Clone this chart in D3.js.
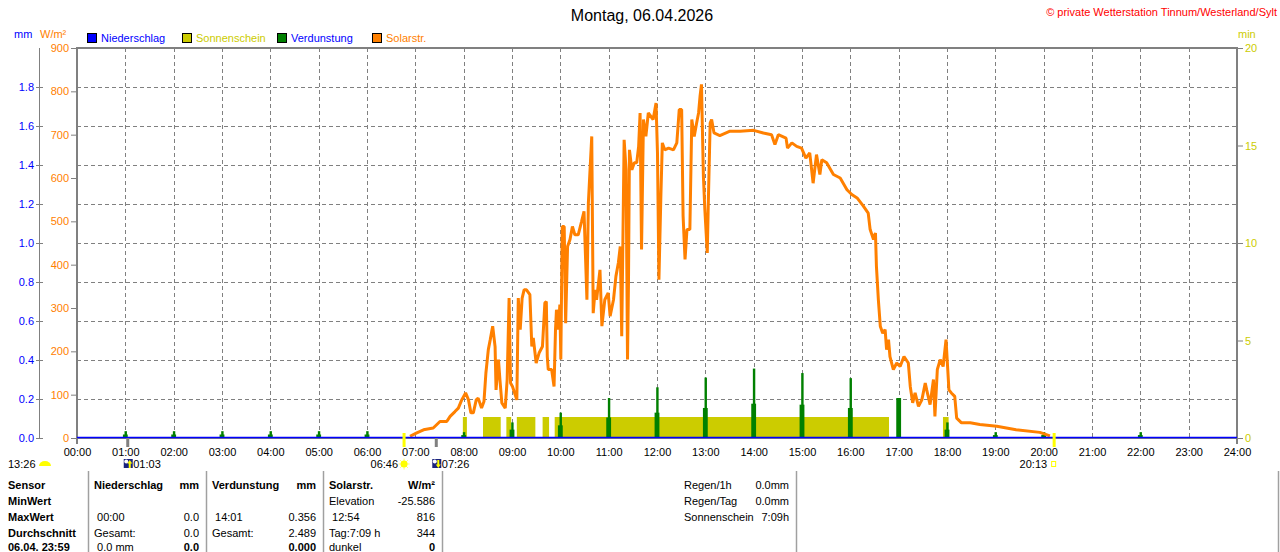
<!DOCTYPE html>
<html>
<head>
<meta charset="utf-8">
<script src="https://cdn.jsdelivr.net/npm/d3@7"></script>
<style>
  body { margin: 0; background: #fff; }
  svg { display: block; font-family: "Liberation Sans", Arial, sans-serif; }
  text { font-size: 11px; }
</style>
</head>
<body>
<div id="chart"></div>
<script>
// ---- data ----
const hourLabels = ['00:00','01:00','02:00','03:00','04:00','05:00','06:00','07:00','08:00','09:00','10:00','11:00',
  '12:00','13:00','14:00','15:00','16:00','17:00','18:00','19:00','20:00','21:00','22:00','23:00','24:00'];
const mmTicks = [0, 0.2, 0.4, 0.6, 0.8, 1.0, 1.2, 1.4, 1.6, 1.8];
const wTicks = [0, 100, 200, 300, 400, 500, 600, 700, 800, 900];
const minTicks = [0, 5, 10, 15, 20];

// Solarstrahlung (W/m²), time in decimal hours
const solarTime = [6.89, 7.03, 7.17, 7.37, 7.51, 7.65, 7.72, 7.82, 7.89, 7.96, 8.04, 8.10, 8.15, 8.20, 8.26, 8.30,
  8.37, 8.42, 8.46, 8.51, 8.55, 8.60, 8.65, 8.67, 8.72, 8.75, 8.79, 8.86, 8.90, 8.94, 8.97, 9.01, 9.10, 9.13, 9.17,
  9.21, 9.25, 9.30, 9.37, 9.41, 9.44, 9.50, 9.56, 9.63, 9.68, 9.71, 9.73, 9.75, 9.82, 9.87, 9.90, 9.92, 9.96, 9.99,
  10.01, 10.04, 10.08, 10.11, 10.15, 10.20, 10.25, 10.30, 10.37, 10.44, 10.49, 10.55, 10.58, 10.65, 10.68, 10.72,
  10.75, 10.82, 10.86, 10.92, 10.99, 11.03, 11.10, 11.15, 11.20, 11.24, 11.27, 11.32, 11.36, 11.39, 11.41, 11.43,
  11.48, 11.53, 11.58, 11.62, 11.65, 11.68, 11.72, 11.77, 11.82, 11.92, 11.98, 12.01, 12.04, 12.08, 12.11, 12.16,
  12.24, 12.34, 12.41, 12.46, 12.51, 12.54, 12.58, 12.62, 12.68, 12.72, 12.77, 12.82, 12.86, 12.89, 12.92, 12.96,
  12.99, 13.04, 13.06, 13.10, 13.13, 13.18, 13.30, 13.51, 13.72, 14.00, 14.20, 14.37, 14.44, 14.51, 14.67, 14.70,
  14.79, 14.89, 14.99, 15.08, 15.16, 15.23, 15.30, 15.37, 15.41, 15.51, 15.65, 15.79, 15.93, 16.03, 16.14, 16.27,
  16.37, 16.41, 16.48, 16.52, 16.54, 16.58, 16.62, 16.67, 16.72, 16.75, 16.79, 16.82, 16.89, 16.96, 17.03, 17.11,
  17.20, 17.24, 17.29, 17.34, 17.41, 17.48, 17.55, 17.58, 17.65, 17.72, 17.75, 17.80, 17.86, 17.92, 17.98, 18.00,
  18.04, 18.09, 18.16, 18.20, 18.30, 18.48, 18.68, 19.03, 19.43, 19.92, 20.13];
const solarValue = [4, 12, 19, 23, 38, 38, 50, 61, 69, 88, 104, 88, 58, 58, 88, 92,
  69, 84, 150, 204, 227, 258, 211, 111, 181, 135, 81, 69, 135, 323, 127, 119, 88, 323, 250,
  323, 342, 342, 331, 211, 231, 173, 196, 211, 312, 315, 188, 158, 158, 119, 250, 296, 250, 308,
  181, 488, 488, 265, 442, 458, 488, 469, 469, 500, 523, 319, 542, 696, 288, 342,
  319, 388, 258, 319, 335, 281, 319, 373, 404, 442, 235, 688, 619, 181, 358, 665,
  619, 635, 635, 673, 750, 435, 735, 696, 750, 735, 773, 658, 365, 558, 681, 665,
  669, 665, 681, 758, 758, 512, 412, 481, 481, 735, 696, 727, 750, 788, 816, 604,
  527, 427, 535, 727, 735, 704, 698, 708, 708, 710, 704, 700, 677, 700, 692, 669,
  681, 673, 669, 646, 658, 588, 654, 608, 642, 635, 608, 600, 573, 562, 554, 535,
  519, 481, 458, 473, 396, 319, 258, 242, 250, 204, 227, 188, 158, 173, 165, 188,
  173, 119, 81, 104, 73, 88, 127, 111, 77, 135, 50, 158, 181, 165, 227, 188,
  111, 104, 96, 46, 35, 35, 31, 27, 19, 13, 5];

// Sonnenschein (min per minute) intervals
const sunStart = ['07:59', '08:24', '08:53', '09:06', '09:38', '09:53', '17:55'];
const sunEnd   = ['08:04', '08:46', '08:59', '09:29', '09:46', '16:48', '18:02'];
const sunValue = 1;

// Verdunstung (mm) spikes around the full hours
const evapHour = [1, 2, 3, 4, 5, 6, 8, 9, 10, 11, 12, 13, 14, 15, 16, 17, 18, 19, 20, 22];
const evapPeak = [0.035, 0.035, 0.035, 0.035, 0.035, 0.035, 0.03, 0.08, 0.13, 0.205, 0.26, 0.31, 0.356, 0.333,
  0.307, 0.205, 0.08, 0.03, 0.03, 0.03];
const evapBase = [0.018, 0.018, 0.018, 0.018, 0.018, 0.018, 0.015, 0.043, 0.065, 0.105, 0.13, 0.154, 0.176, 0.171,
  0.154, 0.205, 0.043, 0.015, 0.015, 0.015];

// Niederschlag (mm)
const rainValue = 0;

// Astro events
const sunrise = '06:46', sunset = '20:13', moonrise = '01:03', moonset = '07:26', sunNoon = '13:26';

// table
const tableRows = ['Sensor', 'MinWert', 'MaxWert', 'Durchschnitt', '06.04. 23:59'];
const tableCols = [
  { head: 'Niederschlag', unit: 'mm', left: ['', '', ' 00:00', 'Gesamt:', ' 0.0 mm'], right: ['', '0.0', '0.0', '0.0'] },
  { head: 'Verdunstung', unit: 'mm', left: ['', '', ' 14:01', 'Gesamt:', ''], right: ['', '0.356', '2.489', '0.000'] },
  { head: 'Solarstr.', unit: 'W/m²', left: ['', 'Elevation', ' 12:54', 'Tag:7:09 h', 'dunkel'], right: ['-25.586', '816', '344', '0'] }
];
const summaryLabels = ['Regen/1h', 'Regen/Tag', 'Sonnenschein'];
const summaryValues = ['0.0mm', '0.0mm', '7:09h'];

// ---- layout ----
const W = 1280, H = 552;
const plot = { left: 77, right: 1237, top: 48, bottom: 438 };
const blue = '#0000ff', orange = '#ff8000', yellow = '#cccc00', green = '#008000', grey = '#808080';

const hm = s => { const p = s.split(':'); return +p[0] + p[1] / 60; };

const x = d3.scaleLinear().domain([0, 24]).range([plot.left, plot.right]);
const yW = d3.scaleLinear().domain([0, 900]).range([plot.bottom, plot.top]);
const yMM = d3.scaleLinear().domain([0, 2]).range([plot.bottom, plot.top]);
const yMin = d3.scaleLinear().domain([0, 20]).range([plot.bottom, plot.top]);

const svg = d3.select('#chart').append('svg').attr('width', W).attr('height', H);

// title + copyright
svg.append('text').text('Montag, 06.04.2026')
  .attr('x', 642).attr('y', 21).attr('text-anchor', 'middle').style('font-size', '16px');
svg.append('text').text('© private Wetterstation Tinnum/Westerland/Sylt')
  .attr('x', 1277).attr('y', 16).attr('text-anchor', 'end').attr('fill', '#ff0000').style('font-size', '11px');

// unit labels
svg.append('text').text('mm').attr('x', 14).attr('y', 38).attr('fill', blue);
svg.append('text').attr('x', 40).attr('y', 38).attr('fill', orange).text('W/m²');
svg.append('text').text('min').attr('x', 1238).attr('y', 38).attr('fill', yellow);

// legend
const legend = [
  { name: 'Niederschlag', box: blue, color: blue, x: 87 },
  { name: 'Sonnenschein', box: yellow, color: yellow, x: 182 },
  { name: 'Verdunstung', box: green, color: blue, x: 277 },
  { name: 'Solarstr.', box: orange, color: orange, x: 372 }
];
const lg = svg.append('g').selectAll('g').data(legend).enter().append('g');
lg.append('rect').attr('x', d => d.x + 0.5).attr('y', 33.5).attr('width', 9).attr('height', 9)
  .attr('fill', d => d.box).attr('stroke', '#000');
lg.append('text').attr('x', d => d.x + 14).attr('y', 42).attr('fill', d => d.color).text(d => d.name);

// grid
const grid = svg.append('g').attr('stroke', grey).attr('stroke-dasharray', '4,3').attr('stroke-width', 1);
grid.selectAll('line.h').data(mmTicks.slice(1)).enter().append('line')
  .attr('x1', plot.left).attr('x2', plot.right)
  .attr('y1', d => Math.round(yMM(d)) + 0.5).attr('y2', d => Math.round(yMM(d)) + 0.5);
grid.selectAll('line.v').data(d3.range(1, 24)).enter().append('line')
  .attr('y1', plot.top).attr('y2', plot.bottom)
  .attr('x1', d => Math.round(x(d)) + 0.5).attr('x2', d => Math.round(x(d)) + 0.5);

// sunshine bars
const sun = sunStart.map((s, i) => ({ a: hm(s), b: hm(sunEnd[i]) }));
svg.append('g').selectAll('rect').data(sun).enter().append('rect')
  .attr('x', d => x(d.a)).attr('width', d => x(d.b) - x(d.a))
  .attr('y', yMin(sunValue) - 1.5).attr('height', yMin(0) - yMin(sunValue) + 1.5)
  .attr('fill', yellow);

// evaporation spikes
const evap = evapHour.map((h, i) => ({ h, peak: evapPeak[i], base: evapBase[i] }));
const eg = svg.append('g').attr('fill', green);
eg.selectAll('rect.base').data(evap).enter().append('rect')
  .attr('x', d => x(d.h - 3 / 60)).attr('width', x(6 / 60) - x(0))
  .attr('y', d => yMM(d.base)).attr('height', d => yMM(0) - yMM(d.base));
eg.selectAll('rect.peak').data(evap).enter().append('rect')
  .attr('x', d => x(d.h - 1 / 60)).attr('width', x(3 / 60) - x(0))
  .attr('y', d => yMM(d.peak)).attr('height', d => yMM(0) - yMM(d.peak));

// solar line
const solar = solarTime.map((t, i) => ({ t, v: solarValue[i] }));
svg.append('path').datum(solar)
  .attr('fill', 'none').attr('stroke', orange).attr('stroke-width', 3).attr('stroke-linejoin', 'bevel')
  .attr('d', d3.line().x(d => x(d.t)).y(d => yW(d.v)));

// frame
const frame = svg.append('g').attr('stroke', grey).attr('stroke-width', 2);
frame.append('line').attr('x1', plot.left - 1).attr('x2', plot.right + 1).attr('y1', plot.top).attr('y2', plot.top);
frame.append('line').attr('x1', plot.left).attr('x2', plot.left).attr('y1', plot.top).attr('y2', plot.bottom + 6);
frame.append('line').attr('x1', plot.right).attr('x2', plot.right).attr('y1', plot.top).attr('y2', plot.bottom + 6);
frame.append('line').attr('x1', plot.left).attr('x2', plot.right).attr('y1', plot.bottom).attr('y2', plot.bottom);

// rain line
svg.append('line').attr('x1', plot.left).attr('x2', plot.right)
  .attr('y1', yMM(rainValue) - 0.5).attr('y2', yMM(rainValue) - 0.5)
  .attr('stroke', blue).attr('stroke-width', 1.5);

// mm axis
const mmAxis = d3.axisLeft(yMM).tickValues(mmTicks).tickFormat(d3.format('.1f')).tickSize(7).tickPadding(2);
const gMM = svg.append('g').attr('transform', 'translate(43,0)').call(mmAxis);
gMM.select('.domain').remove();
gMM.append('line').attr('x1', -3.5).attr('x2', -3.5).attr('y1', plot.top).attr('y2', plot.bottom).attr('stroke', grey);
gMM.selectAll('.tick line').attr('stroke', grey);
gMM.selectAll('.tick text').attr('fill', blue).style('font-size', '11px').style('font-family', null);

// W/m² axis
const wAxis = d3.axisLeft(yW).tickValues(wTicks).tickSize(5).tickPadding(2);
const gW = svg.append('g').attr('transform', `translate(${plot.left - 1},0)`).call(wAxis);
gW.select('.domain').remove();
gW.selectAll('.tick line').attr('stroke', grey);
gW.selectAll('.tick text').attr('fill', orange).style('font-size', '11px').style('font-family', null);

// min axis
const minAxis = d3.axisRight(yMin).tickValues(minTicks).tickSize(5).tickPadding(2);
const gMin = svg.append('g').attr('transform', `translate(${plot.right + 1},0)`).call(minAxis);
gMin.select('.domain').remove();
gMin.selectAll('.tick line').attr('stroke', grey);
gMin.selectAll('.tick text').attr('fill', yellow).style('font-size', '11px').style('font-family', null);

// hour labels
const hourAxis = d3.axisBottom(x).tickValues(d3.range(0, 25)).tickFormat((d, i) => hourLabels[i]).tickSize(0).tickPadding(10);
const gH = svg.append('g').attr('transform', `translate(0,${plot.bottom})`).call(hourAxis);
gH.select('.domain').remove();
gH.selectAll('.tick text').attr('fill', '#000').style('font-size', '11px').style('font-family', null);

// astro markers
svg.append('g').selectAll('rect').data([moonrise, moonset]).enter().append('rect')
  .attr('x', d => x(hm(d)) - 1.5).attr('width', 3).attr('y', plot.bottom).attr('height', 9).attr('fill', grey);
svg.append('g').selectAll('rect').data([sunrise, sunset]).enter().append('rect')
  .attr('x', d => x(hm(d)) - 1.5).attr('width', 3).attr('y', plot.bottom - 5).attr('height', 14).attr('fill', '#ffff00');

const astroY = 468;
svg.append('text').text(sunNoon).attr('x', 8).attr('y', astroY);
svg.append('path').attr('d', 'M39,466 a6,5 0 0 1 12,0 z').attr('fill', '#ffff00');

// moon icons
function moonIcon(cx, up) {
  const g = svg.append('g').attr('transform', `translate(${cx - 4},459)`);
  g.append('rect').attr('width', 9).attr('height', 9).attr('fill', '#1a237e');
  g.append('circle').attr('cx', 2.5).attr('cy', 2.5).attr('r', 2).attr('fill', '#ffffff');
  g.append('path').attr('d', up ? 'M6,1 L8.5,4.5 L7,4.5 L7,9 L5,9 L5,4.5 L3.5,4.5 Z' : 'M6,9 L8.5,5.5 L7,5.5 L7,1 L5,1 L5,5.5 L3.5,5.5 Z')
    .attr('fill', '#ffff00');
}
moonIcon(x(hm(moonrise)), true);
svg.append('text').text(moonrise).attr('x', x(hm(moonrise)) + 5.5).attr('y', astroY);
moonIcon(x(hm(moonset)), false);
svg.append('text').text(moonset).attr('x', x(hm(moonset)) + 5.5).attr('y', astroY);

// sunrise icon + text
const sr = x(hm(sunrise));
svg.append('text').text(sunrise).attr('x', sr - 6).attr('y', astroY).attr('text-anchor', 'end');
const sg = svg.append('g').attr('transform', `translate(${sr},464)`);
sg.selectAll('line').data(d3.range(8)).enter().append('line')
  .attr('x1', 0).attr('y1', 0)
  .attr('x2', d => 5.5 * Math.cos(d * Math.PI / 4)).attr('y2', d => 5.5 * Math.sin(d * Math.PI / 4))
  .attr('stroke', '#ffff66').attr('stroke-width', 1);
sg.append('circle').attr('r', 3.5).attr('fill', '#ffff00');

// sunset icon + text
const ss = x(hm(sunset));
svg.append('text').text(sunset).attr('x', ss - 7).attr('y', astroY).attr('text-anchor', 'end');
svg.append('rect').attr('x', ss - 2.5).attr('y', 461.5).attr('width', 4).attr('height', 5)
  .attr('fill', 'none').attr('stroke', '#ffff00');

// ---- table ----
const rowY = [489, 505, 521, 537, 551];
const sepX = [88, 206, 323, 442, 796, 1278];
svg.append('g').selectAll('line').data(sepX).enter().append('line')
  .attr('x1', d => d + 0.5).attr('x2', d => d + 0.5).attr('y1', 471).attr('y2', H)
  .attr('stroke', '#a0a0a0').attr('stroke-width', 1.5);

svg.append('g').selectAll('text').data(tableRows).enter().append('text')
  .attr('x', 8).attr('y', (d, i) => rowY[i]).style('font-weight', 'bold').text(d => d);

tableCols.forEach((c, ci) => {
  const l = sepX[ci] + 6, r = sepX[ci + 1] - 7;
  svg.append('text').text(c.head).attr('x', l).attr('y', rowY[0]).style('font-weight', 'bold');
  svg.append('text').text(c.unit).attr('x', r).attr('y', rowY[0]).attr('text-anchor', 'end').style('font-weight', 'bold');
  c.left.forEach((t, i) => {
    if (i === 0 || !t) return;
    svg.append('text').attr('x', l).attr('y', rowY[i]).attr('xml:space', 'preserve').text(t);
  });
  // right-hand values start at the MinWert row
  c.right.forEach((t, i) => {
    if (!t) return;
    const row = 1 + i;
    svg.append('text').attr('x', r).attr('y', rowY[row]).attr('text-anchor', 'end')
      .style('font-weight', row === 4 ? 'bold' : null).text(t);
  });
});

svg.append('g').selectAll('text').data(summaryLabels).enter().append('text')
  .attr('x', 684).attr('y', (d, i) => rowY[i]).text(d => d);
svg.append('g').selectAll('text').data(summaryValues).enter().append('text')
  .attr('x', 789).attr('y', (d, i) => rowY[i]).attr('text-anchor', 'end').text(d => d);
</script>
</body>
</html>
